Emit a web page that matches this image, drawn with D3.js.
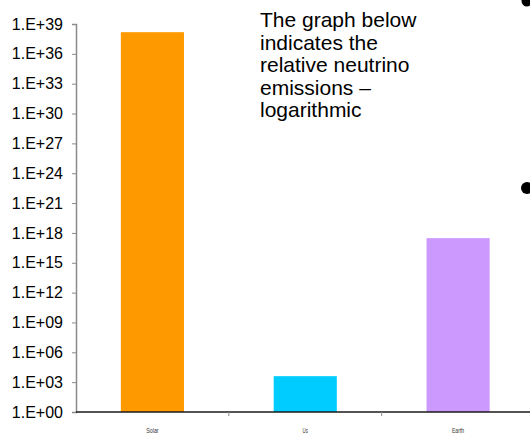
<!DOCTYPE html>
<html>
<head>
<meta charset="utf-8">
<script src="https://cdn.jsdelivr.net/npm/d3@7"></script>
<style>
  html, body { margin: 0; padding: 0; background: #fff; }
  svg { display: block; }
  text { font-family: "Liberation Sans", Arial, sans-serif; }
</style>
</head>
<body>
<svg id="chart" width="530" height="434"></svg>
<script>
// Relative neutrino emissions (log scale)
const categories = ["Solar", "Us", "Earth"];
const emissions = [1.5e38, 4e3, 3e17];
const barColors = ["#FF9900", "#00CCFF", "#CC99FF"];
const tickExponents = [0, 3, 6, 9, 12, 15, 18, 21, 24, 27, 30, 33, 36, 39];
const noteLines = ["The graph below", "indicates the", "relative neutrino", "emissions \u2013", "logarithmic"];

const svg = d3.select("#chart");
const plotLeft = 76, plotRight = 534.5, plotTop = 24, plotBottom = 412;

const y = d3.scaleLog().domain([1, 1e39]).range([plotBottom, plotTop]);
const x = d3.scaleBand().domain(categories).range([plotLeft, plotRight]).padding(0);
const barW = x.bandwidth() * 0.413;

// Bars
svg.append("g").selectAll("rect")
  .data(categories)
  .join("rect")
  .attr("x", (d) => x(d) + (x.bandwidth() - barW) / 2)
  .attr("width", barW)
  .attr("y", (d, i) => y(emissions[i]))
  .attr("height", (d, i) => y(1) - y(emissions[i]))
  .attr("fill", (d, i) => barColors[i]);

// Y axis
const fmt = (v) => {
  const e = Math.round(Math.log10(v));
  return "1.E+" + String(e).padStart(2, "0");
};
const yAxis = d3.axisLeft(y)
  .tickValues(tickExponents.map((e) => Math.pow(10, e)))
  .tickFormat(fmt)
  .tickSize(4)
  .tickPadding(9);
const gy = svg.append("g").attr("transform", `translate(${plotLeft},0)`).call(yAxis);
gy.select(".domain").attr("stroke", "#8a8a8a").attr("stroke-width", 1.5);
gy.selectAll(".tick line").attr("stroke", "#8a8a8a").attr("stroke-width", 1);
gy.selectAll(".tick text")
  .attr("font-size", 16)
  .attr("fill", "#000")
  .attr("font-family", "'Liberation Sans', Arial, sans-serif");

// X axis
const gx = svg.append("g").attr("transform", `translate(0,${plotBottom})`);
gx.append("line")
  .attr("x1", plotLeft).attr("x2", 530)
  .attr("stroke", "#1a1a1a").attr("stroke-width", 1.6);
gx.selectAll("line.tk")
  .data(categories.slice(1))
  .join("line")
  .attr("class", "tk")
  .attr("x1", (d) => x(d)).attr("x2", (d) => x(d))
  .attr("y1", 0).attr("y2", 4)
  .attr("stroke", "#8a8a8a").attr("stroke-width", 1);
gx.selectAll("text")
  .data(categories)
  .join("text")
  .attr("x", (d) => x(d) + x.bandwidth() / 2)
  .attr("y", 20.5)
  .attr("text-anchor", "middle")
  .attr("font-size", 8)
  .attr("fill", "#333")
  .attr("textLength", (d) => d.length * 2.3 + 0.8)
  .attr("lengthAdjust", "spacingAndGlyphs")
  .text((d) => d);

// Note text
const note = svg.append("text")
  .attr("x", 260)
  .attr("font-size", 21)
  .attr("fill", "#000");
note.selectAll("tspan")
  .data(noteLines)
  .join("tspan")
  .attr("x", 260)
  .attr("y", (d, i) => 27 + i * 22.6)
  .text((d) => d);

// Slide bullets at the right edge
svg.append("circle").attr("cx", 527).attr("cy", 1).attr("r", 5.5).attr("fill", "#000");
svg.append("circle").attr("cx", 527).attr("cy", 188).attr("r", 6).attr("fill", "#000");
</script>
</body>
</html>
